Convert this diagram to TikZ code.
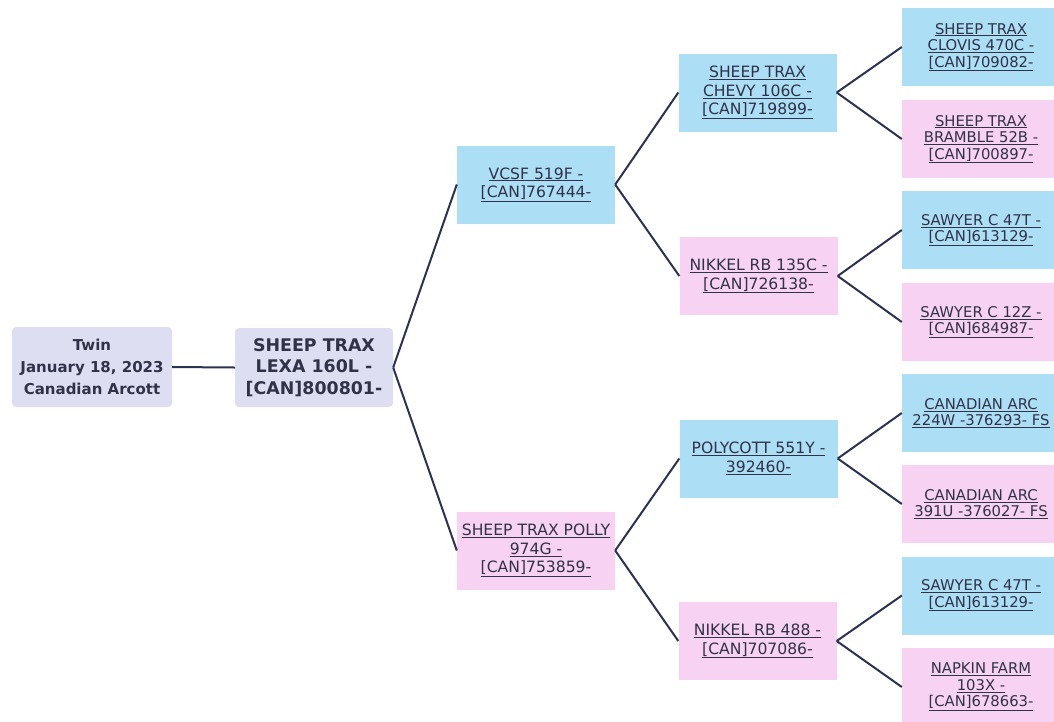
\documentclass[tikz,border=0pt]{standalone}
\usepackage{fontspec}
\setmainfont{DejaVu Sans}
\definecolor{bluebox}{RGB}{172,222,246}
\definecolor{pinkbox}{RGB}{248,210,242}
\definecolor{lavbox}{RGB}{222,222,242}
\definecolor{txt}{RGB}{48,50,72}
\definecolor{linecol}{RGB}{44,50,82}
\newcommand{\uln}[1]{\underline{#1}}
\tikzset{
  box/.style={rectangle, minimum width=158pt, minimum height=78pt, inner sep=0pt, align=center, text=txt},
  bluebox/.style={box, fill=bluebox},
  pinkbox/.style={box, fill=pinkbox},
  lavbox/.style={box, fill=lavbox, rounded corners=4pt},
  midfont/.style={font=\fontsize{15.6}{18.5}\selectfont},
  rightfont/.style={font=\fontsize{14.8}{16.5}\selectfont},
  link/.style={draw=linecol, line width=2pt}
}
\begin{document}
\begin{tikzpicture}[x=1pt,y=-1pt]
\useasboundingbox (0,0) rectangle (1054,721);
% root and subject
\node[lavbox, minimum width=160pt, minimum height=80pt, font=\bfseries\fontsize{15}{22}\selectfont] (root) at (92,367) {Twin\\January 18, 2023\\Canadian Arcott};
\node[lavbox, minimum height=79pt, font=\bfseries\fontsize{17.4}{21.5}\selectfont] (lexa) at (314,367.5) {SHEEP TRAX\\LEXA 160L -\\{[CAN]}800801-};
% parents
\node[bluebox, midfont] (vcsf) at (536,184.5) {\uln{VCSF 519F -}\\\uln{[CAN]767444-}};
\node[pinkbox, midfont] (polly) at (536,550.5) {\uln{SHEEP TRAX POLLY}\\\uln{974G -}\\\uln{[CAN]753859-}};
% grandparents
\node[bluebox, midfont] (chevy) at (757.5,92.5) {\uln{SHEEP TRAX}\\\uln{CHEVY 106C -}\\\uln{[CAN]719899-}};
\node[pinkbox, midfont] (nikA) at (758.5,276) {\uln{NIKKEL RB 135C -}\\\uln{[CAN]726138-}};
\node[bluebox, midfont] (polycott) at (758.5,458.5) {\uln{POLYCOTT 551Y -}\\\uln{392460-}};
\node[pinkbox, midfont] (nikB) at (757.5,641) {\uln{NIKKEL RB 488 -}\\\uln{[CAN]707086-}};
% great-grandparents
\node[bluebox, rightfont] (clovis) at (981,47) {\uln{SHEEP TRAX}\\\uln{CLOVIS 470C -}\\\uln{[CAN]709082-}};
\node[pinkbox, rightfont] (bramble) at (981,139) {\uln{SHEEP TRAX}\\\uln{BRAMBLE 52B -}\\\uln{[CAN]700897-}};
\node[bluebox, rightfont] (sawA) at (981,230) {\uln{SAWYER C 47T -}\\\uln{[CAN]613129-}};
\node[pinkbox, rightfont] (sawZ) at (981,322) {\uln{SAWYER C 12Z -}\\\uln{[CAN]684987-}};
\node[bluebox, rightfont] (canA) at (981,413) {\uln{CANADIAN ARC}\\\uln{224W -376293- FS}};
\node[pinkbox, rightfont] (canB) at (981,504) {\uln{CANADIAN ARC}\\\uln{391U -376027- FS}};
\node[bluebox, rightfont] (sawB) at (981,595.5) {\uln{SAWYER C 47T -}\\\uln{[CAN]613129-}};
\node[pinkbox, rightfont] (napkin) at (981,687) {\uln{NAPKIN FARM}\\\uln{103X -}\\\uln{[CAN]678663-}};
% connectors
\draw[link] (root.east) -- (lexa.west);
\draw[link] (lexa.east) -- (vcsf.west);
\draw[link] (lexa.east) -- (polly.west);
\draw[link] (vcsf.east) -- (chevy.west);
\draw[link] (vcsf.east) -- (nikA.west);
\draw[link] (polly.east) -- (polycott.west);
\draw[link] (polly.east) -- (nikB.west);
\draw[link] (chevy.east) -- (clovis.west);
\draw[link] (chevy.east) -- (bramble.west);
\draw[link] (nikA.east) -- (sawA.west);
\draw[link] (nikA.east) -- (sawZ.west);
\draw[link] (polycott.east) -- (canA.west);
\draw[link] (polycott.east) -- (canB.west);
\draw[link] (nikB.east) -- (sawB.west);
\draw[link] (nikB.east) -- (napkin.west);
\end{tikzpicture}
\end{document}
